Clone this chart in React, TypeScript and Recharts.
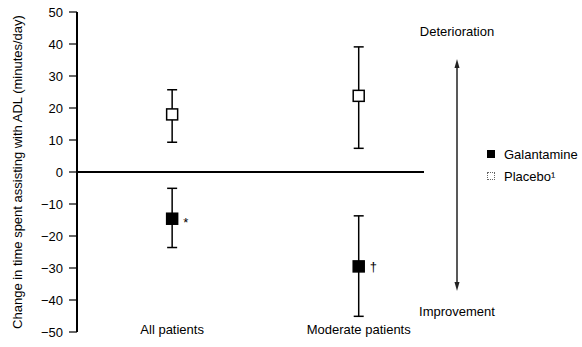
import { ComposedChart, Scatter, ErrorBar, XAxis, YAxis, ReferenceLine, Legend } from 'recharts';

const categories = ['All patients', 'Moderate patients'];

const galantamineMean = [-14.6, -29.5];
const galantamineLow = [-23.6, -45.1];
const galantamineHigh = [-5.1, -13.7];
const galantamineNotes = ['*', '†'];

const placeboMean = [18.0, 23.8];
const placeboLow = [9.3, 7.4];
const placeboHigh = [25.7, 39.1];

const yTicks = [50, 40, 30, 20, 10, 0, -10, -20, -30, -40, -50];

const FONT = '"Liberation Sans", Arial, Helvetica, sans-serif';

const toRows = (mean: number[], low: number[], high: number[], notes?: string[]) =>
  categories.map((name, i) => ({
    x: i + 1,
    name,
    y: mean[i],
    err: [mean[i] - low[i], high[i] - mean[i]],
    note: notes ? notes[i] : '',
  }));

const galantamineData = toRows(galantamineMean, galantamineLow, galantamineHigh, galantamineNotes);
const placeboData = toRows(placeboMean, placeboLow, placeboHigh);

const BoxShape = (filled: boolean) => (props: any) => {
  const { cx, cy, payload } = props;
  const s = 11;
  const note = payload?.note;
  return (
    <g>
      <rect
        x={cx - s / 2}
        y={cy - s / 2}
        width={s}
        height={s}
        fill={filled ? '#000' : '#fff'}
        stroke="#000"
        strokeWidth={1.5}
      />
      {note ? (
        <text
          x={cx + 11}
          y={note === '*' ? cy + 8 : cy + 5}
          fontSize={13}
          fontFamily={FONT}
          fill="#000"
        >
          {note}
        </text>
      ) : null}
    </g>
  );
};

const CategoryTick = (props: any) => {
  const { x, y, payload } = props;
  return (
    <text x={x} y={y + 2} textAnchor="middle" fontSize={13} fontFamily={FONT} fill="#000">
      {categories[payload.value - 1]}
    </text>
  );
};

const renderLegend = (props: any) => {
  const { payload } = props;
  return (
    <div style={{ fontFamily: FONT, fontSize: 13, color: '#000' }}>
      {payload.map((entry: any, i: number) => (
        <div key={`leg-${i}`} style={{ display: 'flex', alignItems: 'center', height: 22 }}>
          <span
            style={{
              display: 'inline-block',
              width: i === 0 ? 8 : 6,
              height: i === 0 ? 8 : 6,
              background: i === 0 ? '#000' : '#fff',
              border: i === 0 ? 'none' : '1px dotted #666',
              marginRight: 9,
            }}
          />
          {entry.value}
        </div>
      ))}
    </div>
  );
};

export default function App() {
  return (
    <div style={{ position: 'absolute', left: 0, top: 0, width: 582, height: 347, background: '#fff', fontFamily: FONT }}>
      <ComposedChart width={582} height={347} margin={{ top: 12, right: 158, bottom: 0, left: 0 }}>
        <XAxis
          type="number"
          dataKey="x"
          domain={[0.49, 2.35]}
          ticks={[1, 2]}
          axisLine={false}
          tickLine={false}
          tickSize={0}
          tickMargin={0}
          height={15}
          tick={<CategoryTick />}
        />
        <YAxis
          type="number"
          domain={[-50, 50]}
          ticks={yTicks}
          width={77}
          interval={0}
          tickSize={8}
          tickMargin={6}
          axisLine={{ stroke: '#000', strokeWidth: 2 }}
          tickLine={{ stroke: '#000', strokeWidth: 1.2 }}
          tick={{ fill: '#000', fontSize: 13, fontFamily: FONT }}
          tickFormatter={(v: number) => (v < 0 ? `\u2212${Math.abs(v)}` : `${v}`)}
          label={{
            value: 'Change in time spent assisting with ADL (minutes/day)',
            angle: -90,
            position: 'insideLeft',
            offset: 17,
            style: { textAnchor: 'middle', fontSize: 13, fontFamily: FONT, fill: '#000' },
          }}
        />
        <ReferenceLine y={0} stroke="#000" strokeWidth={2} />
        <Scatter name="Galantamine" data={galantamineData} dataKey="y" fill="#000" shape={BoxShape(true)} isAnimationActive={false}>
          <ErrorBar dataKey="err" direction="y" width={5} stroke="#000" strokeWidth={1.5} />
        </Scatter>
        <Scatter name="Placebo¹" data={placeboData} dataKey="y" fill="#fff" shape={BoxShape(false)} isAnimationActive={false}>
          <ErrorBar dataKey="err" direction="y" width={5} stroke="#000" strokeWidth={1.5} />
        </Scatter>
        <Legend
          layout="vertical"
          align="center"
          verticalAlign="middle"
          content={renderLegend}
          wrapperStyle={{ position: 'absolute', left: 487, top: 143, width: 95 }}
        />
      </ComposedChart>
      <svg
        width={582}
        height={347}
        style={{ position: 'absolute', left: 0, top: 0, pointerEvents: 'none' }}
      >
        <text x={457} y={36} textAnchor="middle" fontSize={13} fontFamily={FONT} fill="#000">
          Deterioration
        </text>
        <text x={457} y={316} textAnchor="middle" fontSize={13} fontFamily={FONT} fill="#000">
          Improvement
        </text>
        <line x1={457} y1={64} x2={457} y2={286} stroke="#222" strokeWidth={1.5} />
        <polygon points="457,59 454.5,68 459.5,68" fill="#222" />
        <polygon points="457,291 454.5,282 459.5,282" fill="#222" />
      </svg>
    </div>
  );
}
